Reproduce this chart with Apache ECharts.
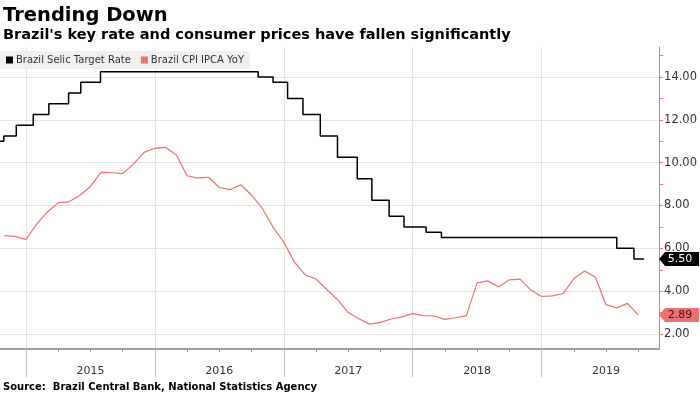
<!DOCTYPE html>
<html>
<head>
<meta charset="utf-8">
<script src="https://cdn.jsdelivr.net/npm/echarts@6/dist/echarts.min.js"></script>
<style>
  html, body { margin: 0; padding: 0; background: #fff; }
  #chart { width: 700px; height: 393px; }
</style>
</head>
<body>
<div id="chart"></div>
<script>
// ---- Data ----
const titleText = 'Trending Down';
const subtitleText = "Brazil's key rate and consumer prices have fallen significantly";
const sourceText = 'Source:  Brazil Central Bank, National Statistics Agency';
const seriesNames = ['Brazil Selic Target Rate', 'Brazil CPI IPCA YoY'];

// Selic target rate: date of each change and new level
const selicDates = ['2014-10-01','2014-10-30','2014-12-04','2015-01-22','2015-03-05','2015-04-30',
  '2015-06-04','2015-07-30','2016-10-20','2016-12-01','2017-01-12','2017-02-23','2017-04-13',
  '2017-06-01','2017-07-27','2017-09-07','2017-10-26','2017-12-07','2018-02-08','2018-03-22',
  '2019-08-01','2019-09-19','2019-10-18'];
const selicRates = [11.00,11.25,11.75,12.25,12.75,13.25,13.75,14.25,14.00,13.75,13.00,12.25,11.25,
  10.25,9.25,8.25,7.50,7.00,6.75,6.50,6.00,5.50,5.50];

// CPI IPCA YoY, monthly (plotted at month end)
const cpiMonths = ['2014-10','2014-11','2014-12',
  '2015-01','2015-02','2015-03','2015-04','2015-05','2015-06','2015-07','2015-08','2015-09','2015-10','2015-11','2015-12',
  '2016-01','2016-02','2016-03','2016-04','2016-05','2016-06','2016-07','2016-08','2016-09','2016-10','2016-11','2016-12',
  '2017-01','2017-02','2017-03','2017-04','2017-05','2017-06','2017-07','2017-08','2017-09','2017-10','2017-11','2017-12',
  '2018-01','2018-02','2018-03','2018-04','2018-05','2018-06','2018-07','2018-08','2018-09','2018-10','2018-11','2018-12',
  '2019-01','2019-02','2019-03','2019-04','2019-05','2019-06','2019-07','2019-08','2019-09'];
const cpiValues = [6.59,6.56,6.41,
  7.14,7.70,8.13,8.17,8.47,8.89,9.56,9.53,9.49,9.93,10.48,10.67,
  10.71,10.36,9.39,9.28,9.32,8.84,8.74,8.97,8.48,7.87,6.99,6.29,
  5.35,4.76,4.57,4.08,3.60,3.00,2.71,2.46,2.54,2.70,2.80,2.95,
  2.86,2.84,2.68,2.76,2.86,4.39,4.48,4.19,4.53,4.56,4.05,3.75,
  3.78,3.89,4.58,4.94,4.66,3.37,3.22,3.43,2.89];

// Axis ticks / labels
const yearLabels = ['2015','2016','2017','2018','2019'];
const yTickValues = [2,3,4,5,6,7,8,9,10,11,12,13,14,15];
const yLabelValues = [2,4,6,8,10,12,14];

// ---- helpers: convert dates to month offsets from Jan 2015 ----
function dayToMonths(s) {
  const [y, m, d] = s.split('-').map(Number);
  const dim = new Date(y, m, 0).getDate();
  return (y - 2015) * 12 + (m - 1) + (d - 1) / dim;
}
function monthEnd(s) {
  const [y, m] = s.split('-').map(Number);
  return (y - 2015) * 12 + m;
}
const X_MIN = -2.42, X_MAX = 58.94;
const Y_MIN = 1.3, Y_MAX = 15.4;

const selicData = selicDates.map((d, i) => [dayToMonths(d), selicRates[i]]);
const cpiData = cpiMonths.map((d, i) => [monthEnd(d), cpiValues[i]]);

const quarterTicks = [];
for (let q = 0; q <= 57; q += 3) quarterTicks.push(q);
const yearTicks = yearLabels.map((y, i) => i * 12);
const yearLabelPos = yearLabels.map((y, i) => i * 12 + 6);

const FONT = 'DejaVu Sans';
const SELIC_COLOR = '#000000';
const CPI_COLOR = '#f07070';
const AXIS_RED = '#f07676';

const chart = echarts.init(document.getElementById('chart'), null, { renderer: 'canvas' });

const lastSelic = selicRates[selicRates.length - 1];
const lastCpi = cpiValues[cpiValues.length - 1];

const option = {
  animation: false,
  backgroundColor: '#ffffff',
  graphic: [
    { type: 'text', left: 3, top: 6, z: 10,
      style: { text: titleText, font: 'bold 19.5px "DejaVu Sans"', fill: '#000' } },
    { type: 'text', left: 3, top: 28, z: 10,
      style: { text: subtitleText, font: 'bold 14.5px "DejaVu Sans"', fill: '#000' } },
    { type: 'text', left: 3, top: 382, z: 10,
      style: { text: sourceText, font: 'bold 10px "DejaVu Sans"', fill: '#000' } }
  ],
  legend: {
    data: seriesNames,
    left: 0, top: 51,
    icon: 'rect', itemWidth: 7, itemHeight: 7, itemGap: 10,
    padding: [4, 6, 4, 6],
    backgroundColor: '#f0f0f0',
    textStyle: { fontFamily: FONT, fontSize: 10, color: '#333', padding: [0, 0, 0, -2] }
  },
  grid: { left: 0, right: 40, top: 47, bottom: 44, containLabel: false },
  xAxis: [
    {
      type: 'value', position: 'bottom', min: X_MIN, max: X_MAX,
      axisLine: { show: true, onZero: false, lineStyle: { color: '#808080', width: 1.5 } },
      axisTick: { show: true, customValues: quarterTicks, length: 3, lineStyle: { color: '#999' } },
      axisLabel: { show: false },
      splitLine: { show: false }
    },
    {
      type: 'value', position: 'bottom', min: X_MIN, max: X_MAX,
      axisLine: { show: false, onZero: false },
      axisTick: { show: true, customValues: yearTicks, length: 28, lineStyle: { color: '#c0c0c0' } },
      axisLabel: {
        show: true, customValues: yearLabelPos, margin: 17,
        fontFamily: FONT, fontSize: 11, color: '#333',
        formatter: (v) => yearLabels[Math.round((v - 6) / 12)]
      },
      splitLine: { show: true, lineStyle: { color: '#e4e4e4', width: 1 } }
    }
  ],
  yAxis: [
    {
      type: 'value', position: 'right', min: Y_MIN, max: Y_MAX, z: 3,
      axisLine: { show: true, onZero: false, lineStyle: { color: AXIS_RED, width: 1 } },
      axisTick: { show: true, customValues: yTickValues, length: 4, lineStyle: { color: AXIS_RED } },
      axisLabel: { show: false },
      splitLine: { show: false }
    },
    {
      type: 'value', position: 'right', min: Y_MIN, max: Y_MAX,
      axisLine: { show: false, onZero: false },
      axisTick: { show: false, customValues: yLabelValues },
      axisLabel: {
        show: true, customValues: yLabelValues, margin: 5,
        fontFamily: FONT, fontSize: 11.5, color: '#333',
        formatter: (v) => v.toFixed(2)
      },
      splitLine: { show: true, lineStyle: { color: '#e4e4e4', width: 1 } }
    }
  ],
  series: [
    {
      name: seriesNames[0], type: 'line', step: 'end',
      xAxisIndex: 0, yAxisIndex: 0,
      data: selicData, symbol: 'none', clip: true,
      lineStyle: { color: SELIC_COLOR, width: 1.5 },
      itemStyle: { color: SELIC_COLOR },
      markPoint: {
        silent: true, z: 5,
        symbol: 'path://M0,7 L6,0 L40,0 L40,14 L6,14 Z',
        symbolSize: [40, 14], symbolOffset: [20, 0],
        itemStyle: { color: SELIC_COLOR },
        label: { show: true, position: 'inside', offset: [1, 0], color: '#fff',
          fontFamily: FONT, fontSize: 11, formatter: () => lastSelic.toFixed(2) },
        data: [{ coord: [X_MAX, lastSelic] }]
      }
    },
    {
      name: seriesNames[1], type: 'line',
      xAxisIndex: 0, yAxisIndex: 0,
      data: cpiData, symbol: 'none', clip: true,
      lineStyle: { color: CPI_COLOR, width: 1.2 },
      itemStyle: { color: CPI_COLOR },
      markPoint: {
        silent: true, z: 5,
        symbol: 'path://M0,7 L6,0 L40,0 L40,14 L6,14 Z',
        symbolSize: [40, 14], symbolOffset: [20, 0],
        itemStyle: { color: CPI_COLOR },
        label: { show: true, position: 'inside', offset: [1, 0], color: '#3a1010',
          fontFamily: FONT, fontSize: 11, formatter: () => lastCpi.toFixed(2) },
        data: [{ coord: [X_MAX, lastCpi] }]
      }
    }
  ]
};
chart.setOption(option);
</script>
</body>
</html>
